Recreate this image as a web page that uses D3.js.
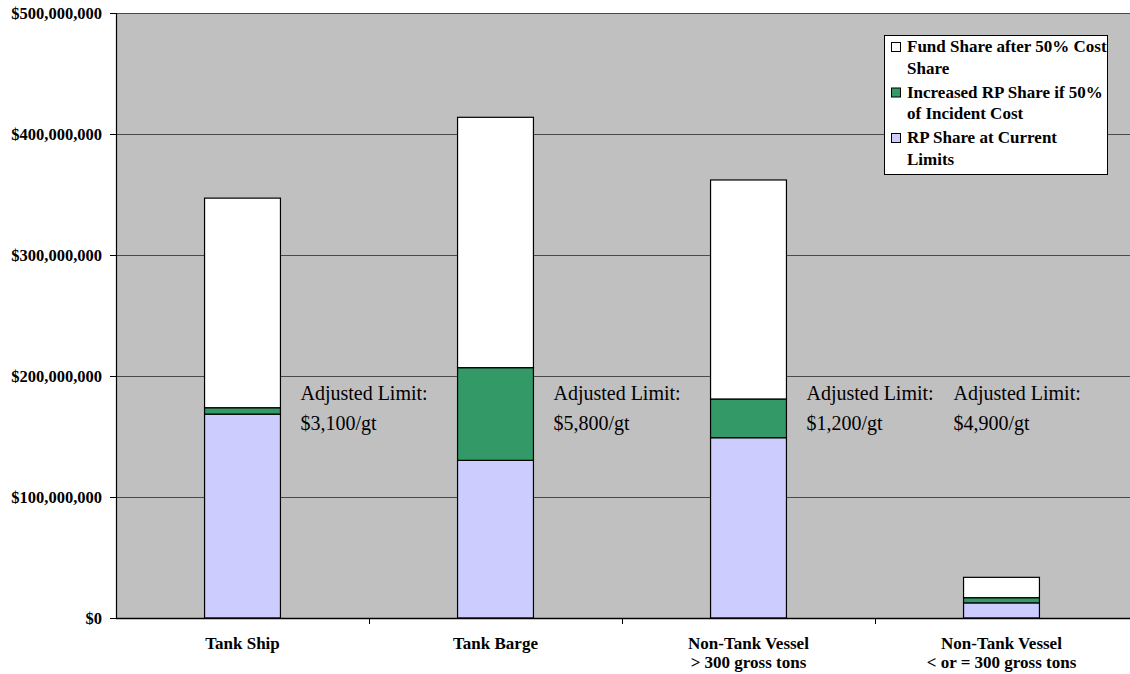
<!DOCTYPE html>
<html>
<head>
<meta charset="utf-8">
<script src="https://cdn.jsdelivr.net/npm/d3@7"></script>
<style>
  html, body { margin: 0; padding: 0; background: #ffffff; }
  svg { display: block; }
  text { font-family: "Liberation Serif", "Times New Roman", serif; fill: #000; }
</style>
</head>
<body>
<svg id="chart" width="1130" height="674"></svg>
<script>
// Vessel categories (two-line labels)
const categories = ["Tank Ship", "Tank Barge", "Non-Tank Vessel >300", "Non-Tank Vessel <=300"];
const categoryLines = [
  ["Tank Ship"],
  ["Tank Barge"],
  ["Non-Tank Vessel", "> 300 gross tons"],
  ["Non-Tank Vessel", "< or = 300 gross tons"]
];

// Stacked series values (dollars)
const rpCurrent   = [168.5e6, 130.3e6, 149.0e6, 12.5e6];
const rpIncrease  = [5.3e6,   76.6e6,  32.0e6,  4.3e6];
const fundShare   = [173.2e6, 206.9e6, 181.0e6, 16.8e6];

const seriesNames = [
  ["Fund Share after 50% Cost", "Share"],
  ["Increased RP Share if 50%", "of Incident Cost"],
  ["RP Share at Current", "Limits"]
];

const yTicks = [0, 100e6, 200e6, 300e6, 400e6, 500e6];
const limitLabels = ["$3,100/gt", "$5,800/gt", "$1,200/gt", "$4,900/gt"];

const colors = { fund: "#ffffff", increase: "#339966", current: "#ccccff" };

const svg = d3.select("#chart");
const plot = { left: 116, top: 13, right: 1128, bottom: 618 };

const x = d3.scaleBand()
  .domain(categories)
  .range([plot.left, plot.right])
  .paddingInner(0.7)
  .paddingOuter(0.35);

const y = d3.scaleLinear()
  .domain([0, 500e6])
  .range([plot.bottom, plot.top]);

// Plot background
svg.append("rect")
  .attr("x", plot.left).attr("y", plot.top)
  .attr("width", 1130 - plot.left).attr("height", plot.bottom - plot.top)
  .attr("fill", "#c0c0c0");

// Horizontal gridlines
svg.append("g")
  .selectAll("line")
  .data(yTicks.filter(d => d > 0))
  .join("line")
  .attr("x1", plot.left).attr("x2", 1130)
  .attr("y1", d => Math.round(y(d)) + 0.5).attr("y2", d => Math.round(y(d)) + 0.5)
  .attr("stroke", "#4a4a4a").attr("stroke-width", 1);

// Stacked bars
const table = categories.map((c, i) => ({
  cat: c, current: rpCurrent[i], increase: rpIncrease[i], fund: fundShare[i]
}));
const stack = d3.stack().keys(["current", "increase", "fund"]);
const layers = stack(table);

svg.append("g")
  .selectAll("g")
  .data(layers)
  .join("g")
  .attr("fill", d => colors[d.key])
  .selectAll("rect")
  .data(d => d)
  .join("rect")
  .attr("x", d => x(d.data.cat))
  .attr("y", d => y(d[1]))
  .attr("width", x.bandwidth())
  .attr("height", d => y(d[0]) - y(d[1]))
  .attr("stroke", "#000")
  .attr("stroke-width", 1.2);

// Y axis
const yAxis = d3.axisLeft(y)
  .tickValues(yTicks)
  .tickSize(6)
  .tickPadding(8)
  .tickFormat(d => "$" + d3.format(",")(d));

const yg = svg.append("g")
  .attr("transform", `translate(${plot.left},0)`)
  .call(yAxis);
yg.select(".domain").attr("stroke", "#000").attr("stroke-width", 1.2);
yg.selectAll(".tick line").attr("stroke", "#000");
yg.selectAll(".tick text")
  .attr("font-family", "Liberation Serif, Times New Roman, serif")
  .attr("font-size", 16.5)
  .attr("font-weight", "bold");

// X axis line with tick marks between categories
svg.append("line")
  .attr("x1", plot.left).attr("x2", 1130)
  .attr("y1", plot.bottom + 0.5).attr("y2", plot.bottom + 0.5)
  .attr("stroke", "#000").attr("stroke-width", 1.5);

const step = x.step();
svg.append("g")
  .selectAll("line")
  .data(categories.slice(1))
  .join("line")
  .attr("x1", d => Math.round(x(d) - step * 0.35) + 0.5)
  .attr("x2", d => Math.round(x(d) - step * 0.35) + 0.5)
  .attr("y1", plot.bottom).attr("y2", plot.bottom + 6)
  .attr("stroke", "#000");

// Category labels
const catG = svg.append("g")
  .selectAll("text")
  .data(categories)
  .join("text")
  .attr("x", d => x(d) + x.bandwidth() / 2)
  .attr("y", 649)
  .attr("text-anchor", "middle")
  .attr("font-size", 17)
  .attr("font-weight", "bold");
catG.selectAll("tspan")
  .data((d, i) => categoryLines[i])
  .join("tspan")
  .attr("x", function () { return this.parentNode.getAttribute("x"); })
  .attr("dy", (d, i) => i === 0 ? 0 : 19)
  .text(d => d);

// Adjusted limit annotations
const annot = svg.append("g")
  .selectAll("text")
  .data(categories)
  .join("text")
  .attr("x", (d, i) => i < 3 ? x(d) + x.bandwidth() + 20 : x(d) - 10)
  .attr("y", y(180e6))
  .attr("font-size", 20);
annot.append("tspan")
  .attr("x", function () { return this.parentNode.getAttribute("x"); })
  .text("Adjusted Limit:");
annot.append("tspan")
  .attr("x", function () { return this.parentNode.getAttribute("x"); })
  .attr("dy", 30)
  .text((d, i) => limitLabels[i]);

// Legend
const legend = svg.append("g");
legend.append("rect")
  .attr("x", 884.5).attr("y", 35.5)
  .attr("width", 223).attr("height", 139)
  .attr("fill", "#fff").attr("stroke", "#000").attr("stroke-width", 1);

const legendFill = [colors.fund, colors.increase, colors.current];
const items = legend.selectAll("g.item")
  .data(seriesNames)
  .join("g")
  .attr("class", "item")
  .attr("transform", (d, i) => `translate(0,${52 + i * 45.5})`);
items.append("rect")
  .attr("x", 891.5).attr("y", -9.5)
  .attr("width", 9).attr("height", 9)
  .attr("fill", (d, i) => legendFill[i])
  .attr("stroke", "#000").attr("stroke-width", 1);
items.append("text")
  .attr("x", 907)
  .attr("font-size", 17)
  .attr("font-weight", "bold")
  .selectAll("tspan")
  .data(d => d)
  .join("tspan")
  .attr("x", 907)
  .attr("dy", (d, i) => i === 0 ? 0 : 21.5)
  .text(d => d);
</script>
</body>
</html>
